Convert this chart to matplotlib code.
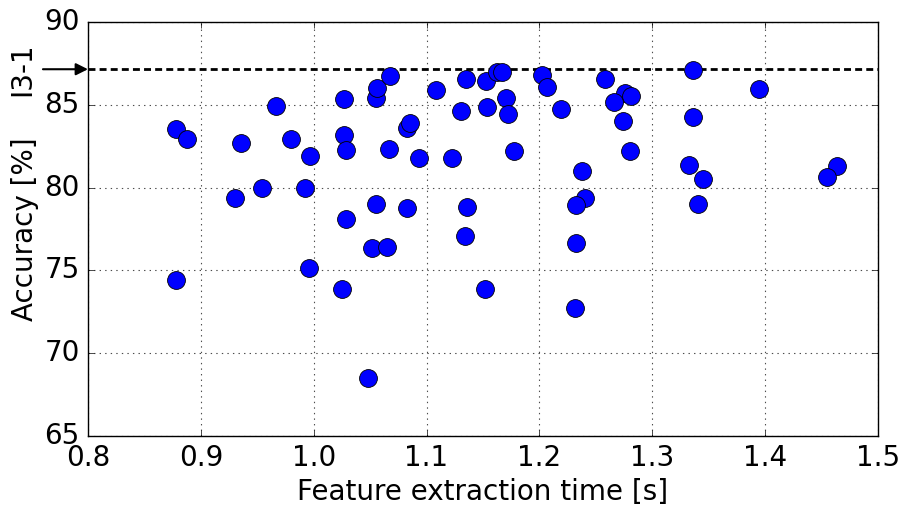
import matplotlib
matplotlib.use("Agg")
import matplotlib.pyplot as plt

time_s = [0.878, 0.888, 0.9355, 0.9668, 0.980, 0.997, 0.930, 0.954, 0.9927,
          1.027, 1.027, 1.0285, 1.0285, 1.055, 1.056, 1.068, 1.067, 1.0826,
          1.0855, 1.0937, 1.055, 1.0828, 1.0515, 1.0654, 1.1085, 1.1224,
          1.1351, 1.1528, 1.1628, 1.1667, 1.1702, 1.1304, 1.1534, 1.1726,
          1.1776, 1.2027, 1.2071, 1.2195, 1.258, 1.2759, 1.281, 1.2665,
          1.2741, 1.2803, 1.3365, 1.3362, 1.3323, 1.3453, 1.3409, 1.3946,
          1.4634, 1.4548, 1.2381, 1.2402, 1.2325, 1.136, 1.1339, 1.2325,
          0.878, 0.9963, 1.0255, 1.0485, 1.1519, 1.2319]
accuracy = [83.53, 82.94, 82.68, 84.90, 82.93, 81.93, 79.36, 79.96, 79.96,
            85.34, 83.20, 82.30, 78.09, 85.40, 85.99, 86.75, 82.36, 83.59,
            83.89, 81.81, 79.03, 78.77, 76.33, 76.43, 85.91, 81.81,
            86.55, 86.41, 87.01, 86.98, 85.44, 84.64, 84.84, 84.44,
            82.22, 86.80, 86.07, 84.72, 86.55, 85.71, 85.54, 85.16,
            84.01, 82.24, 87.13, 84.26, 81.35, 80.53, 79.01, 85.95,
            81.31, 80.67, 81.03, 79.38, 78.94, 78.81, 77.08, 76.67,
            74.40, 75.14, 73.88, 68.48, 73.88, 72.73]
reference_acc = 87.15
reference_label = "I3-1"
xticks = [0.8, 0.9, 1.0, 1.1, 1.2, 1.3, 1.4, 1.5]
yticks = [65, 70, 75, 80, 85, 90]

plt.style.use('classic')
plt.rcParams['font.family'] = ['DejaVu Sans']
fig = plt.figure(figsize=(9.06, 5.09), dpi=100, facecolor='white')
ax = fig.add_axes([0.0971, 0.1434, 0.8719, 0.8133])
ax.set_facecolor('white')

ax.scatter(time_s, accuracy, s=165, c='#0000ff', edgecolors='black',
           linewidths=0.6, zorder=3)
ax.axhline(reference_acc, color='black', lw=2, ls='--', dashes=(5, 3), zorder=2)

ax.set_xlim(0.8, 1.5)
ax.set_ylim(65, 90)
ax.set_xticks(xticks)
ax.set_yticks(yticks)
ax.set_xticklabels([f"{v:.1f}" for v in xticks])
ax.tick_params(labelsize=20, direction='in', length=4, top=True, right=True, pad=6)
ax.grid(True, ls=':', color='black', lw=0.8, alpha=0.7)
ax.set_axisbelow(True)
ax.set_xlabel("Feature extraction time [s]", fontsize=20, labelpad=4)
ax.set_ylabel("Accuracy [%]", fontsize=20, labelpad=4)

trans = ax.get_yaxis_transform()
ax.annotate('', xy=(0, reference_acc), xycoords=trans,
            xytext=(-0.057, reference_acc), textcoords=trans,
            arrowprops=dict(arrowstyle='-|>', color='black', lw=1.5,
                            mutation_scale=18, shrinkA=0, shrinkB=0))
ax.text(-0.083, reference_acc, reference_label, transform=trans, rotation=90,
        ha='center', va='center', fontsize=20, clip_on=False)

fig.savefig('out.png', dpi=100, facecolor='white')
